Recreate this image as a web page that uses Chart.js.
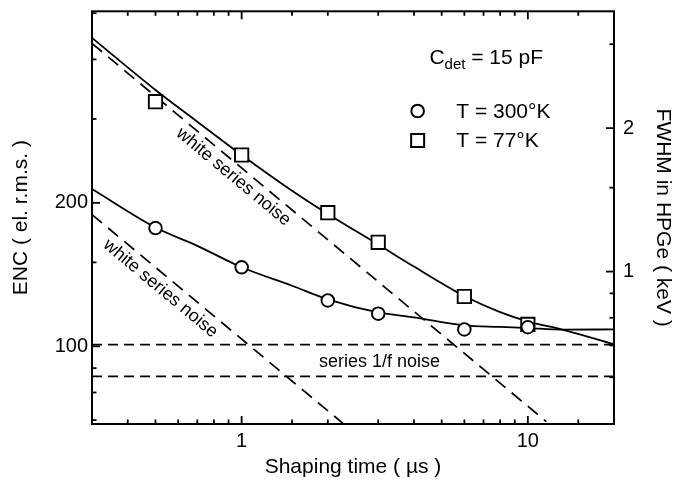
<!DOCTYPE html>
<html><head><meta charset="utf-8">
<script src="https://cdn.jsdelivr.net/npm/chart.js@4.4.1/dist/chart.umd.min.js"></script>
<style>html,body{margin:0;padding:0;background:#fff;}#wrap{width:682px;height:493px;}</style>
</head><body><div id="wrap"><canvas id="c" width="682" height="493"></canvas></div>
<script>
// ---- data ----
const shapingTimes = [0.5, 1, 2, 3, 6, 10];
const enc300K = [177.1, 146.5, 124.8, 117.1, 108.5, 109.7];
const enc77K = [326, 252, 190.7, 165.3, 127.2, 111.2];

const fitTimes = [0.3, 0.5, 0.7, 1, 1.5, 2, 3, 4, 6, 8, 10, 13.3, 20];
const fit300K = [213.8, 177.5, 162.5, 146.5, 134, 125.5, 117.8, 115, 110.6, 109.8, 109.2, 108.4, 108.5];
const fit77K = [443.7, 345, 296, 252, 212, 189.5, 163.5, 147, 127.5, 118, 112.8, 108.3, 101];

const whiteTimes77K = [0.3, 11.6];
const white77K = [432, 69.5];
const whiteTimes300K = [0.3, 2.3];
const white300K = [189, 68.3];
const flatTimes = [0.3, 20];
const oneOverFHigh = [100.8, 100.8];
const oneOverFLow = [86.5, 86.5];

const xTickLabels = [1, 10];
const yTickLabels = [100, 200];
const y2TickLabels = [1, 2];
const xMin = 0.3, xMax = 20;
const encMin = 68.7, encMax = 504.6;
const fwhmPerEnc = 0.00697; // keV per electron r.m.s. in HPGe

const FONT = '"Liberation Sans", Arial, Helvetica, sans-serif';
Chart.defaults.font.family = FONT;
Chart.defaults.color = '#000';

const pts = (xs, ys) => xs.map((x, i) => ({x, y: ys[i]}));
const near = (v, list) => list.some(t => Math.abs(v - t) / t < 1e-6);

const frameTicks = {
  id: 'frameTicks',
  afterDraw(chart) {
    const {ctx, chartArea: a, scales} = chart;
    ctx.save();
    ctx.strokeStyle = '#000';
    ctx.lineWidth = 1.8;
    const seg = (x1, y1, x2, y2) => { ctx.beginPath(); ctx.moveTo(x1, y1); ctx.lineTo(x2, y2); ctx.stroke(); };
    const inner = (s, lo, hi) => s.ticks.filter(t => t.value > lo * 1.0001 && t.value < hi * 0.9999);
    inner(scales.x, xMin, xMax).forEach(t => {
      const p = scales.x.getPixelForValue(t.value);
      const len = near(t.value, xTickLabels) ? 8 : 4.5;
      seg(p, a.bottom, p, a.bottom - len);
      seg(p, a.top, p, a.top + len);
    });
    inner(scales.y, encMin, encMax).forEach(t => {
      const p = scales.y.getPixelForValue(t.value);
      const len = near(t.value, yTickLabels) ? 8 : 4.5;
      seg(a.left, p, a.left + len, p);
    });
    inner(scales.y2, encMin * fwhmPerEnc, encMax * fwhmPerEnc).forEach(t => {
      const p = scales.y2.getPixelForValue(t.value);
      const len = near(t.value, y2TickLabels) ? 8 : 4.5;
      seg(a.right, p, a.right - len, p);
    });
    ctx.lineWidth = 2;
    ctx.strokeRect(a.left, a.top, a.right - a.left, a.bottom - a.top);
    ctx.restore();
  }
};

const notes = {
  id: 'notes',
  afterDraw(chart) {
    const {ctx, scales: {x, y}} = chart;
    const P = (tx, ey) => [x.getPixelForValue(tx), y.getPixelForValue(ey)];
    ctx.save();
    ctx.fillStyle = '#000';
    const rotLabel = (txt, at, xs, ys) => {
      const [x1, y1] = P(xs[0], ys[0]);
      const [x2, y2] = P(xs[1], ys[1]);
      const ang = Math.atan2(y2 - y1, x2 - x1);
      const [cx, cy] = P(at[0], at[1]);
      ctx.save();
      ctx.translate(cx, cy);
      ctx.rotate(ang);
      ctx.font = '18px ' + FONT;
      ctx.textAlign = 'center';
      ctx.textBaseline = 'middle';
      ctx.fillText(txt, 0, 0);
      ctx.restore();
    };
    rotLabel('white series noise', [0.936, 226.7], whiteTimes77K, white77K);
    rotLabel('white series noise', [0.52, 132.2], whiteTimes300K, white300K);
    let [sx, sy] = P(3.03, 92.8);
    ctx.font = '18px ' + FONT;
    ctx.textAlign = 'center';
    ctx.textBaseline = 'middle';
    ctx.fillText('series 1/f noise', sx, sy);
    let [cx, cy] = P(4.53, 390.3);
    ctx.textAlign = 'left';
    ctx.textBaseline = 'alphabetic';
    ctx.font = '21px ' + FONT;
    ctx.fillText('C', cx, cy);
    cx += ctx.measureText('C').width;
    ctx.font = '15px ' + FONT;
    ctx.fillText('det', cx, cy + 5);
    cx += ctx.measureText('det').width;
    ctx.font = '21px ' + FONT;
    ctx.fillText(' = 15 pF', cx, cy);
    const [mx, r1] = P(4.12, 311.7);
    const [, r2] = P(4.12, 270.4);
    const [tx] = P(5.62, 300);
    ctx.lineWidth = 2;
    ctx.strokeStyle = '#000';
    ctx.fillStyle = '#fff';
    ctx.beginPath(); ctx.arc(mx, r1, 6.3, 0, Math.PI * 2); ctx.fill(); ctx.stroke();
    ctx.beginPath(); ctx.rect(mx - 6.5, r2 - 6.5, 13, 13); ctx.fill(); ctx.stroke();
    ctx.fillStyle = '#000';
    ctx.font = '21px ' + FONT;
    ctx.textBaseline = 'middle';
    ctx.fillText('T = 300°K', tx, r1 + 1.5);
    ctx.fillText('T = 77°K', tx, r2 + 1);
    ctx.restore();
  }
};

const curve = (data) => ({data, borderColor: '#000', borderWidth: 1.8, pointRadius: 0, fill: false,
  cubicInterpolationMode: 'monotone', clip: 0});
const dashed = (data, dash) => ({data, borderColor: '#000', borderWidth: 1.7, pointRadius: 0, fill: false,
  borderDash: dash, tension: 0, clip: 0});
const noPad = s => { s.paddingTop = 0; s.paddingBottom = 0; s.paddingLeft = 0; s.paddingRight = 0; };

new Chart(document.getElementById('c'), {
  type: 'line',
  data: {
    datasets: [
      {label: 'T = 300°K', data: pts(shapingTimes, enc300K), showLine: false, pointStyle: 'circle',
       pointRadius: 6.3, borderWidth: 1.9, borderColor: '#000', backgroundColor: '#fff'},
      {label: 'T = 77°K', data: pts(shapingTimes, enc77K), showLine: false, pointStyle: 'rect',
       pointRadius: 9.4, borderWidth: 1.9, borderColor: '#000', backgroundColor: '#fff'},
      curve(pts(fitTimes, fit300K)),
      curve(pts(fitTimes, fit77K)),
      dashed(pts(whiteTimes77K, white77K), [13, 8]),
      dashed(pts(whiteTimes300K, white300K), [13, 8]),
      dashed(pts(flatTimes, oneOverFHigh), [10, 6]),
      dashed(pts(flatTimes, oneOverFLow), [10, 6])
    ]
  },
  options: {
    responsive: false,
    devicePixelRatio: 1,
    animation: false,
    layout: {padding: {top: 10, left: 0, right: 0, bottom: 0}},
    plugins: {legend: {display: false}, tooltip: {enabled: false}},
    scales: {
      x: {
        type: 'logarithmic', position: 'bottom', min: xMin, max: xMax,
        grid: {display: false, drawTicks: false, tickLength: 0}, border: {display: false},
        ticks: {autoSkip: false, maxRotation: 0, padding: 5, font: {size: 20}, color: '#000',
          callback: v => near(v, xTickLabels) ? String(v) : ''},
        title: {display: true, text: 'Shaping time ( µs )', font: {size: 21}, color: '#000',
          padding: {top: 0, bottom: 13}},
        afterFit: s => { s.height = 69; noPad(s); }
      },
      y: {
        type: 'logarithmic', position: 'left', min: encMin, max: encMax,
        grid: {display: false, drawTicks: false, tickLength: 0}, border: {display: false},
        ticks: {autoSkip: false, padding: 4, font: {size: 20}, color: '#000',
          callback: v => near(v, yTickLabels) ? String(v) : ''},
        title: {display: true, text: 'ENC ( el. r.m.s. )', font: {size: 21}, color: '#000',
          padding: {top: 9, bottom: 0}},
        afterFit: s => { s.width = 92; noPad(s); }
      },
      y2: {
        type: 'logarithmic', position: 'right', min: encMin * fwhmPerEnc, max: encMax * fwhmPerEnc,
        grid: {display: false, drawTicks: false, tickLength: 0}, border: {display: false},
        ticks: {autoSkip: false, padding: 9, font: {size: 20}, color: '#000',
          callback: v => near(v, y2TickLabels) ? String(v) : ''},
        title: {display: true, text: 'FWHM in HPGe ( keV )', font: {size: 21}, color: '#000',
          padding: {top: 7, bottom: 0}},
        afterFit: s => { s.width = 68; noPad(s); }
      }
    }
  },
  plugins: [frameTicks, notes]
});
</script></body></html>
